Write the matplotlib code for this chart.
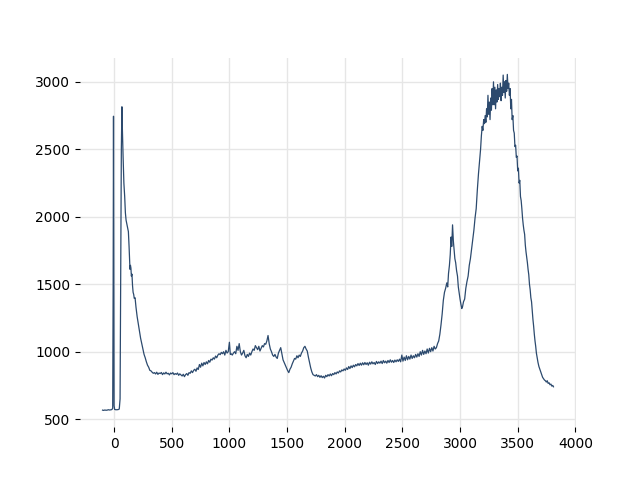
# ---------------------------------------------------------------------------- #
# NEEDED IMPORTS

import matplotlib
matplotlib.use("Agg")
import matplotlib.pyplot as plt                  # matplotlib = Matplotlib

# ---------------------------------------------------------------------------- #
# DATA

wavenumber = [
    -100, -90, -80, -70, -60, -50, -40, -30, -20, -12,
    -8, -5, -2, 0, 5, 15, 25, 35, 45, 52,
    58, 63, 68, 72, 78, 85, 92, 98, 104, 110,
    118, 124, 130, 136, 139, 142, 146, 150, 155, 160,
    165, 170, 175, 182, 190, 200, 210, 220, 230, 240,
    250, 260, 270, 280, 290, 300, 310, 320, 330, 340,
    350, 360, 370, 380, 390, 400, 410, 420, 430, 440,
    450, 460, 470, 480, 490, 500, 510, 520, 530, 540,
    550, 560, 570, 580, 590, 600, 610, 620, 630, 640,
    650, 660, 670, 680, 690, 700, 710, 720, 730, 740,
    750, 760, 770, 780, 790, 800, 810, 820, 830, 840,
    850, 860, 870, 880, 890, 900, 910, 920, 930, 940,
    950, 960, 970, 980, 990, 1000, 1008, 1015, 1025, 1035,
    1045, 1055, 1065, 1075, 1085, 1095, 1105, 1115, 1125, 1135,
    1145, 1155, 1165, 1175, 1185, 1195, 1205, 1215, 1225, 1235,
    1245, 1255, 1265, 1275, 1285, 1295, 1305, 1315, 1325, 1335,
    1345, 1355, 1365, 1375, 1385, 1395, 1405, 1415, 1425, 1435,
    1445, 1455, 1465, 1475, 1485, 1495, 1505, 1515, 1525, 1535,
    1545, 1555, 1565, 1575, 1585, 1595, 1605, 1615, 1625, 1635,
    1645, 1655, 1665, 1675, 1685, 1695, 1705, 1715, 1725, 1735,
    1745, 1755, 1765, 1775, 1785, 1795, 1805, 1815, 1825, 1835,
    1845, 1855, 1865, 1875, 1885, 1895, 1905, 1915, 1925, 1935,
    1945, 1955, 1965, 1975, 1985, 1995, 2005, 2015, 2025, 2035,
    2045, 2055, 2065, 2075, 2085, 2095, 2105, 2115, 2125, 2135,
    2145, 2155, 2165, 2175, 2185, 2195, 2205, 2215, 2225, 2235,
    2245, 2255, 2265, 2275, 2285, 2295, 2305, 2315, 2325, 2335,
    2345, 2355, 2365, 2375, 2385, 2395, 2405, 2415, 2425, 2435,
    2445, 2455, 2465, 2475, 2485, 2495, 2505, 2515, 2525, 2535,
    2545, 2555, 2565, 2575, 2585, 2595, 2605, 2615, 2625, 2635,
    2645, 2655, 2665, 2675, 2685, 2695, 2705, 2715, 2725, 2735,
    2745, 2755, 2765, 2775, 2785, 2795, 2805, 2815, 2825, 2835,
    2845, 2855, 2865, 2875, 2885, 2893, 2900, 2908, 2915, 2922,
    2928, 2935, 2942, 2948, 2955, 2962, 2970, 2978, 2985, 2993,
    3000, 3008, 3015, 3022, 3030, 3040, 3050, 3060, 3070, 3080,
    3090, 3100, 3110, 3120, 3130, 3140, 3150, 3160, 3170, 3178,
    3185, 3192, 3198, 3205, 3212, 3218, 3224, 3230, 3236, 3242,
    3248, 3254, 3260, 3266, 3272, 3278, 3284, 3290, 3296, 3302,
    3308, 3314, 3320, 3326, 3332, 3338, 3344, 3350, 3356, 3362,
    3368, 3374, 3380, 3386, 3392, 3398, 3404, 3410, 3416, 3422,
    3428, 3434, 3440, 3446, 3452, 3458, 3464, 3470, 3476, 3482,
    3488, 3494, 3500, 3506, 3512, 3518, 3524, 3530, 3536, 3542,
    3548, 3554, 3560, 3566, 3572, 3578, 3584, 3590, 3596, 3602,
    3608, 3614, 3620, 3626, 3632, 3638, 3644, 3650, 3656, 3662,
    3668, 3676, 3684, 3692, 3700, 3708, 3716, 3724, 3732, 3740,
    3748, 3756, 3764, 3772, 3780, 3788, 3796, 3804, 3810,
]

intensity = [
    567, 565, 568, 566, 567, 570, 568, 569, 571, 580,
    1500, 2745, 1200, 600, 572, 570, 570, 571, 575, 650,
    1600, 2500, 2815, 2650, 2450, 2250, 2150, 2030, 1975, 1950,
    1920, 1890, 1780, 1650, 1610, 1640, 1620, 1560, 1575, 1490,
    1440, 1425, 1395, 1400, 1330, 1260, 1205, 1150, 1100, 1060,
    1020, 980, 955, 925, 900, 885, 862, 858, 848, 840,
    845, 835, 848, 832, 842, 838, 846, 830, 843, 835,
    848, 836, 840, 828, 842, 836, 845, 830, 838, 832,
    842, 825, 836, 828, 820, 833, 815, 830, 838, 825,
    845, 840, 858, 845, 862, 870, 855, 880, 868, 905,
    885, 915, 895, 920, 905, 925, 910, 935, 922, 945,
    938, 955, 945, 968, 955, 975, 985, 978, 995, 985,
    1000, 975, 1010, 990, 1000, 1070, 980, 985, 975, 990,
    1000, 985, 1040, 1010, 1060, 1000, 975, 990, 1010, 970,
    955, 980, 965, 990, 975, 1000, 1020, 1010, 1045, 1030,
    1015, 1040, 1005, 1025, 1045, 1035, 1060, 1055, 1080, 1120,
    1060, 1020, 1000, 975, 965, 980, 960, 950, 990, 1010,
    1030, 985, 940, 920, 900, 880, 860, 845, 870, 885,
    910, 930, 950, 945, 970, 955, 975, 965, 990, 1005,
    1030, 1040, 1020, 1005, 960, 920, 880, 850, 830, 825,
    820, 830, 815, 825, 810, 822, 808, 818, 805, 825,
    815, 830, 820, 835, 822, 838, 830, 845, 835, 850,
    842, 858, 850, 865, 858, 872, 862, 880, 868, 890,
    875, 895, 882, 900, 888, 905, 895, 912, 898, 915,
    900, 918, 903, 920, 905, 918, 900, 922, 908, 925,
    910, 920, 905, 928, 912, 925, 915, 930, 912, 935,
    918, 930, 915, 935, 920, 940, 922, 935, 920, 938,
    925, 940, 928, 945, 925, 975, 930, 960, 935, 970,
    940, 965, 945, 975, 950, 970, 955, 980, 960, 985,
    965, 1000, 975, 1010, 980, 1005, 985, 1020, 990, 1025,
    1000, 1030, 1005, 1040, 1020, 1030, 1060, 1080, 1130, 1200,
    1280, 1380, 1440, 1470, 1510, 1480, 1580, 1640, 1720, 1850,
    1780, 1940, 1820, 1760, 1690, 1660, 1600, 1560, 1480, 1430,
    1390, 1350, 1320, 1335, 1370, 1390, 1470, 1520, 1560, 1640,
    1690, 1760, 1830, 1900, 1990, 2060, 2200, 2320, 2420, 2500,
    2600, 2670, 2640, 2720, 2690, 2750, 2700, 2800, 2740, 2900,
    2760, 2850, 2720, 2880, 2790, 2950, 2830, 3000, 2830, 2960,
    2800, 2940, 2850, 2980, 2870, 2950, 2890, 2990, 2860, 2960,
    2900, 3050, 2920, 3000, 2880, 3010, 2930, 3055, 2950, 2990,
    2900, 2950, 2800, 2870, 2720, 2750, 2640, 2620, 2520, 2530,
    2440, 2450, 2340, 2360, 2250, 2270, 2150, 2120, 2060, 1990,
    1940, 1900, 1870, 1790, 1740, 1700, 1660, 1610, 1570, 1500,
    1460, 1400, 1370, 1300, 1240, 1190, 1130, 1080, 1040, 990,
    960, 920, 890, 870, 850, 830, 810, 800, 790, 785,
    775, 785, 765, 770, 755, 760, 745, 750, 740,
]

# ---------------------------------------------------------------------------- #
# PLOT

fig, ax = plt.subplots(figsize=(6.4, 4.8), dpi=100)

ax.plot(wavenumber, intensity, color="#2c4a6e", linewidth=0.9)

# Light grid, no frame
ax.grid(True, color="#e6e6e6", linewidth=1.0)
ax.set_axisbelow(True)
for side in ["top", "right", "bottom", "left"]:
    ax.spines[side].set_visible(False)

ax.set_xticks([0, 500, 1000, 1500, 2000, 2500, 3000, 3500, 4000])
ax.set_yticks([500, 1000, 1500, 2000, 2500, 3000])

fig.savefig("out.png")

# end of file #
